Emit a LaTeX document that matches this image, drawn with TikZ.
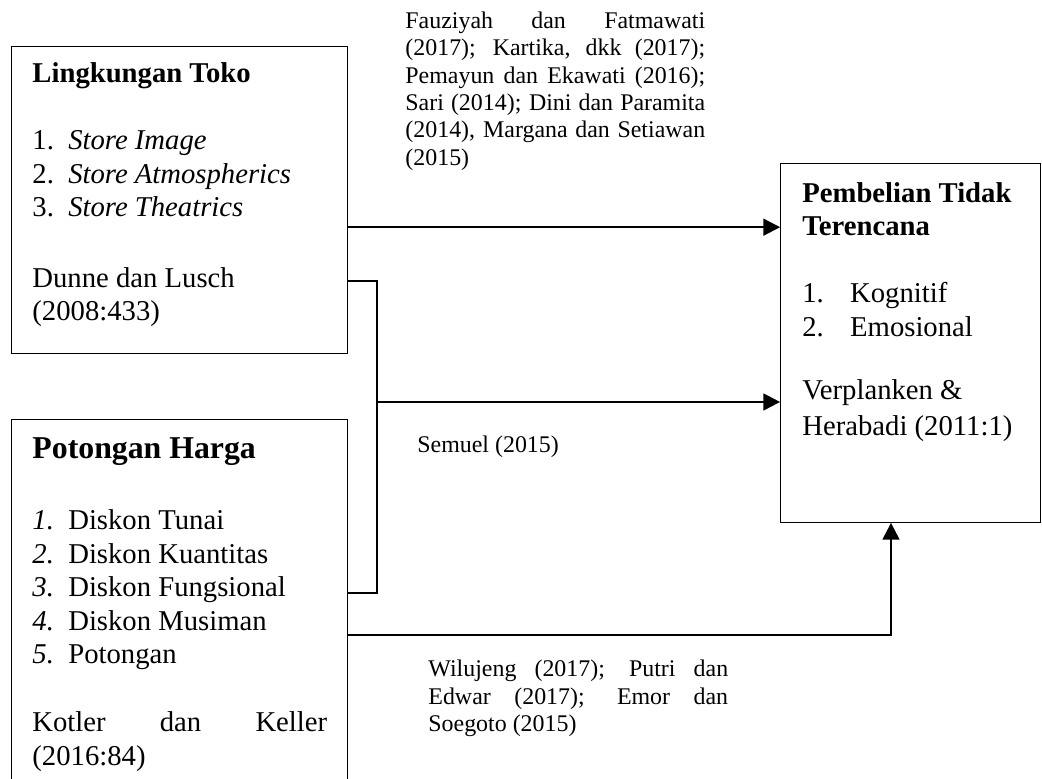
\documentclass[tikz,border=0pt]{standalone}
\usepackage{fontspec}
\setmainfont{Liberation Serif}
\usepackage{tikz}
\usetikzlibrary{arrows.meta}

\newcommand{\jline}[2]{\makebox[#1][s]{#2}}
\newcommand{\textlines}[1]{\begin{tabular}[t]{@{}l@{}}#1\end{tabular}}

\tikzset{
	box/.style={draw, line width=0.5pt, inner sep=0pt, anchor=north west},
	txt/.style={anchor=base west, inner sep=0pt, font=\fontsize{12}{14}\selectfont},
	cite/.style={anchor=base west, inner sep=0pt, font=\fontsize{10}{11.5}\selectfont},
	link/.style={line width=0.9pt},
	arrow/.style={line width=0.9pt, -{Triangle[length=7pt, width=7pt]}}
}

\begin{document}
\begin{tikzpicture}
	\useasboundingbox (0, 0) rectangle (15.32, -11.45);
	\clip (0, 0) rectangle (15.32, -11.45);
	% boxes
	\node [box, minimum width=4.94cm, minimum height=4.51cm] (0) at (0.16, -0.68) {};
	\node [box, minimum width=4.94cm, minimum height=5.60cm] (1) at (0.16, -6.16) {};
	\node [box, minimum width=3.82cm, minimum height=5.27cm] (2) at (11.47, -2.40) {};
	% box texts
	\node [txt, font=\fontsize{12}{14}\selectfont\bfseries] (3) at (0.47, -1.22) {Lingkungan Toko};
	\node [txt] (4) at (0.47, -2.205) {\textlines{\makebox[15pt][l]{1.}\textit{Store Image}\\
		\makebox[15pt][l]{2.}\textit{Store Atmospherics}\\
		\makebox[15pt][l]{3.}\textit{Store Theatrics}}};
	\node [txt] (5) at (0.47, -4.22) {\textlines{Dunne dan Lusch\\(2008:433)}};
	\node [txt, font=\fontsize{13.3}{16}\selectfont\bfseries] (6) at (0.47, -6.747) {Potongan Harga};
	\node [txt] (7) at (0.47, -7.791) {\textlines{\makebox[15pt][l]{\textit{1.}}Diskon Tunai\\
		\makebox[15pt][l]{\textit{2.}}Diskon Kuantitas\\
		\makebox[15pt][l]{\textit{3.}}Diskon Fungsional\\
		\makebox[15pt][l]{\textit{4.}}Diskon Musiman\\
		\makebox[15pt][l]{\textit{5.}}Potongan}};
	\node [txt] (8) at (0.47, -10.76) {\textlines{\jline{123.3pt}{Kotler dan Keller}\\(2016:84)}};
	\node [txt, font=\fontsize{12}{14}\selectfont\bfseries] (9) at (11.79, -2.97) {\textlines{Pembelian Tidak\\Terencana}};
	\node [txt] (10) at (11.79, -4.454) {\textlines{\makebox[20pt][l]{1.}Kognitif\\\makebox[20pt][l]{2.}Emosional}};
	\node [txt] (11) at (11.79, -5.88) {\textlines{Verplanken \&\\[1pt]Herabadi (2011:1)}};
	% citations
	\node [cite] (12) at (5.954, -0.412) {\textlines{\jline{125.4pt}{Fauziyah dan Fatmawati}\\
		\jline{125.4pt}{(2017); Kartika, dkk (2017);}\\
		\jline{125.4pt}{Pemayun dan Ekawati (2016);}\\
		\jline{125.4pt}{Sari (2014); Dini dan Paramita}\\
		\jline{125.4pt}{(2014), Margana dan Setiawan}\\
		(2015)}};
	\node [cite] (13) at (6.13, -6.66) {Semuel (2015)};
	\node [cite] (14) at (6.292, -9.952) {\textlines{\jline{125.4pt}{Wilujeng (2017); Putri dan}\\
		\jline{125.4pt}{Edwar (2017); Emor dan}\\
		Soegoto (2015)}};
	\coordinate (15) at (5.54, -4.13);
	\coordinate (16) at (5.54, -8.72);
	\coordinate (17) at (5.54, -5.91);
	\coordinate (18) at (13.10, -9.33);
	% edges
	\draw [arrow] (0.east |- 0,-3.34) to (2.west |- 0,-3.34);
	\draw [link] (0.east |- 15) to (15) to (16) to (1.east |- 16);
	\draw [arrow] (17) to (2.west |- 17);
	\draw [arrow] (1.east |- 18) to (18) to (2.south -| 18);
\end{tikzpicture}
\end{document}
